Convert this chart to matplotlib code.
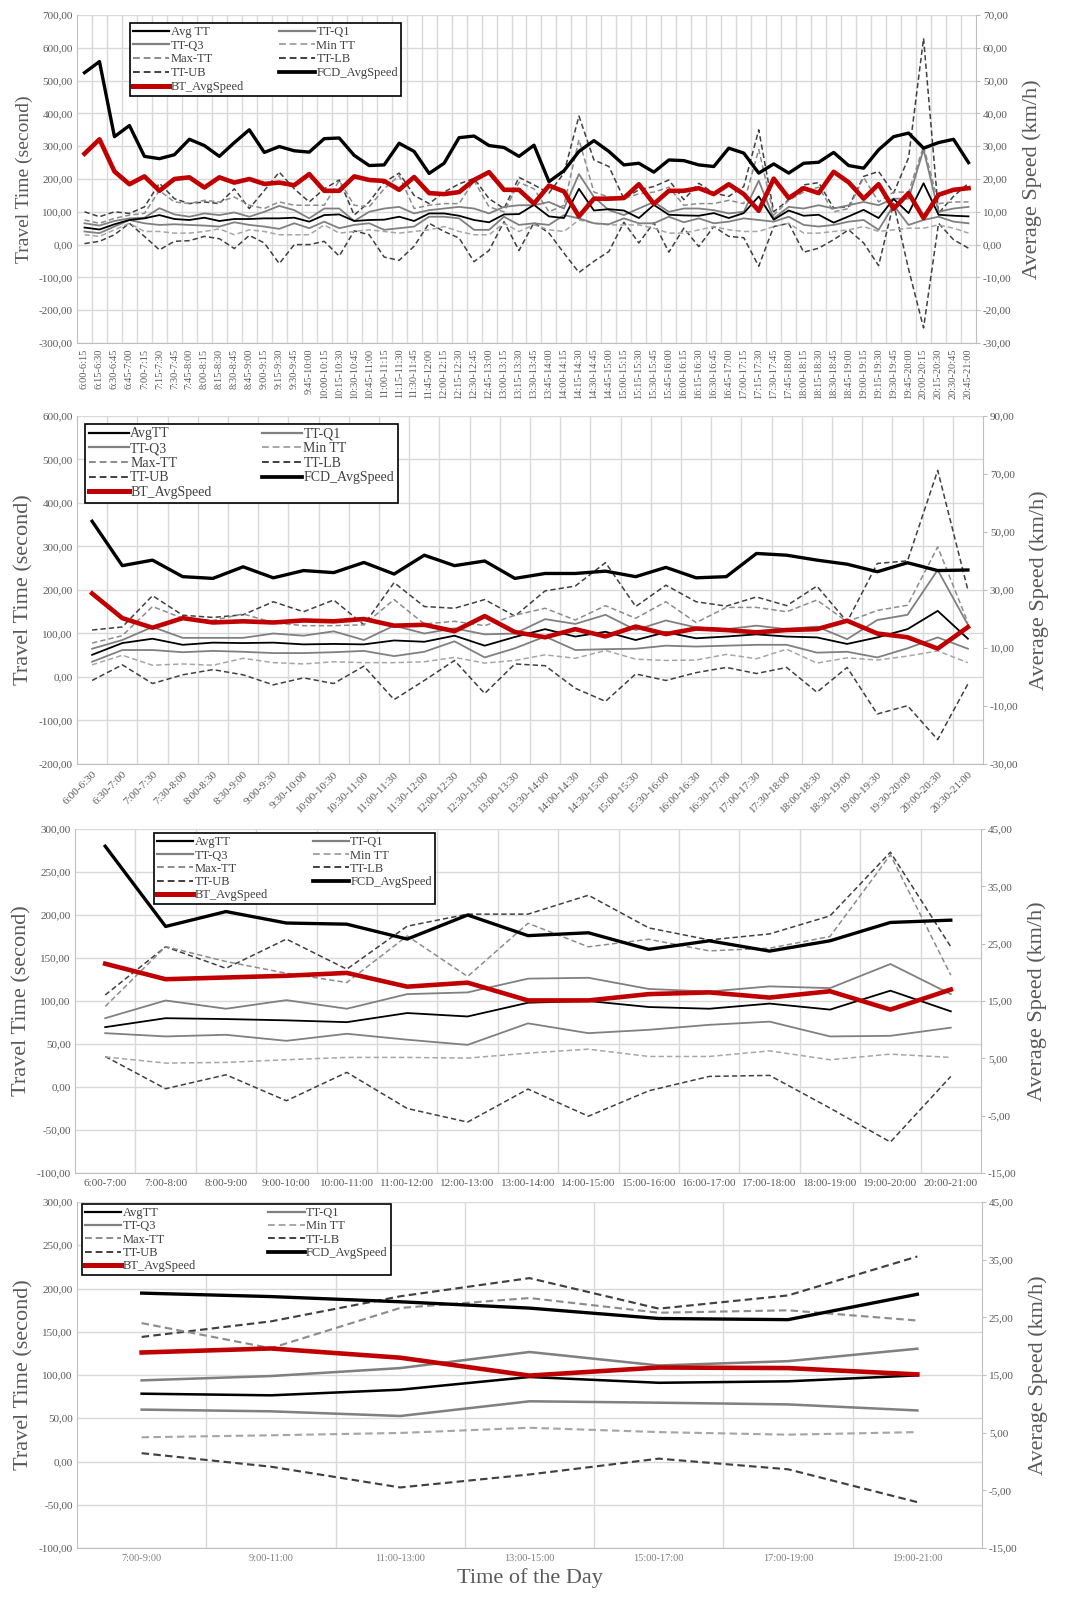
import matplotlib
matplotlib.use('Agg')
import matplotlib.pyplot as plt
import numpy as np
from matplotlib.ticker import FuncFormatter, FixedLocator
from matplotlib.lines import Line2D

plt.rcParams['font.family'] = ['Liberation Serif', 'DejaVu Serif']

# ---------------- Panel 1 (15-minute intervals) ----------------
lab1 = ["6:00-6:15", "6:15-6:30", "6:30-6:45", "6:45-7:00", "7:00-7:15", "7:15-7:30", "7:30-7:45", "7:45-8:00",
        "8:00-8:15", "8:15-8:30", "8:30-8:45", "8:45-9:00", "9:00-9:15", "9:15-9:30", "9:30-9:45", "9:45-10:00",
        "10:00-10:15", "10:15-10:30", "10:30-10:45", "10:45-11:00", "11:00-11:15", "11:15-11:30", "11:30-11:45",
        "11:45-12:00", "12:00-12:15", "12:15-12:30", "12:30-12:45", "12:45-13:00", "13:00-13:15", "13:15-13:30",
        "13:30-13:45", "13:45-14:00", "14:00-14:15", "14:15-14:30", "14:30-14:45", "14:45-15:00", "15:00-15:15",
        "15:15-15:30", "15:30-15:45", "15:45-16:00", "16:00-16:15", "16:15-16:30", "16:30-16:45", "16:45-17:00",
        "17:00-17:15", "17:15-17:30", "17:30-17:45", "17:45-18:00", "18:00-18:15", "18:15-18:30", "18:30-18:45",
        "18:45-19:00", "19:00-19:15", "19:15-19:30", "19:30-19:45", "19:45-20:00", "20:00-20:15", "20:15-20:30",
        "20:30-20:45", "20:45-21:00"]
avg1 = [52, 46, 62, 75, 80, 90, 78, 75, 82, 72, 78, 78, 80, 80, 82, 70, 90, 92, 72, 75, 76, 85, 72, 95, 95, 88, 75, 68, 92, 93,
        121, 86, 81, 170, 104, 108, 104, 81, 121, 91, 89, 88, 96, 81, 96, 147, 76, 104, 88, 91, 67, 86, 106, 81, 139, 96, 187, 91, 88, 86]
q1_1 = [40, 35, 55, 75, 65, 60, 62, 60, 58, 55, 68, 60, 55, 48, 65, 50, 70, 50, 60, 65, 45, 50, 55, 85, 85, 80, 45, 45, 85, 60,
        65, 60, 90, 80, 65, 62, 80, 65, 65, 85, 68, 80, 65, 70, 80, 75, 70, 85, 60, 55, 60, 70, 75, 45, 120, 60, 75, 85, 70, 65]
q3_1 = [65, 58, 72, 80, 82, 111, 92, 85, 95, 90, 98, 85, 100, 118, 105, 80, 110, 110, 72, 100, 110, 115, 95, 105, 110, 115, 110, 95, 115, 120,
        120, 130, 110, 215, 145, 105, 90, 110, 130, 100, 110, 110, 105, 95, 100, 195, 80, 115, 110, 120, 110, 120, 130, 120, 140, 140, 290, 100, 110, 115]
min1 = [30, 25, 45, 65, 40, 40, 35, 35, 40, 48, 30, 45, 40, 30, 30, 30, 60, 35, 40, 45, 40, 35, 40, 45, 55, 40, 30, 30, 65, 40,
        60, 45, 40, 75, 65, 60, 60, 60, 50, 35, 35, 45, 55, 45, 40, 40, 55, 65, 35, 35, 40, 45, 55, 40, 45, 50, 50, 60, 50, 35]
max1 = [75, 65, 80, 90, 95, 165, 130, 125, 135, 130, 145, 120, 110, 130, 120, 120, 120, 195, 120, 115, 170, 210, 110, 120, 125, 125, 195, 115, 100, 190,
        170, 100, 120, 320, 160, 145, 140, 155, 160, 175, 120, 125, 125, 135, 125, 290, 90, 135, 160, 175, 100, 110, 205, 130, 160, 160, 300, 125, 130, 130]
lb1 = [3, 10, 30, 65, 25, -16, 10, 12, 25, 18, -12, 28, 5, -58, 0, 0, 10, -35, 42, 30, -38, -48, -5, 65, 40, 20, -52, -18, 70, -18,
       67, 35, -26, -85, -51, -21, 68, 5, 67, -23, 50, -6, 55, 25, 21, -66, 55, 65, -23, -11, 15, 45, 5, -64, 126, -75, -254, 65, 15, -11]
ub1 = [100, 85, 100, 95, 115, 187, 140, 125, 130, 125, 170, 110, 165, 221, 170, 130, 170, 197, 90, 130, 190, 218, 150, 125, 160, 185, 202, 140, 110, 205,
       182, 157, 218, 392, 258, 238, 140, 167, 177, 197, 137, 187, 157, 147, 177, 350, 100, 137, 182, 189, 111, 116, 208, 223, 157, 265, 629, 96, 147, 187]
fcd1 = [52.4, 55.8, 32.9, 36.3, 26.9, 26.2, 27.4, 32.1, 30.2, 26.9, 31.1, 35.0, 28.1, 29.9, 28.6, 28.2, 32.3, 32.5, 27.2, 24.1,
        24.3, 30.9, 28.4, 21.7, 24.8, 32.6, 33.1, 30.2, 29.6, 26.9,
        30.3, 19.2, 22.5, 28.4, 31.7, 28.4, 24.3, 24.8, 22.1, 25.8, 25.6, 24.3, 23.8, 29.4, 27.9, 21.8, 24.6, 21.8, 24.8, 25.1,
        28.1, 24.1, 23.3, 28.9, 32.9, 34.0, 29.4, 31.1, 32.1, 25.0]
bt1 = [27.7, 32.1, 22.3, 18.4, 20.8, 16.4, 20.0, 20.5, 17.4, 20.5, 18.9, 20.0, 18.5, 18.9, 18.1, 21.5, 16.4, 16.4, 20.8, 19.7,
       19.4, 16.7, 20.6, 15.7, 15.4, 16.0, 19.7, 22.1, 16.7, 16.7,
       12.5, 18.0, 16.2, 8.6, 14.0, 14.0, 14.2, 18.4, 12.4, 16.4, 16.4, 17.2, 15.4, 18.4, 15.4, 10.3, 20.1, 14.2, 17.2, 15.7,
       22.2, 19.0, 14.0, 18.4, 10.9, 15.7, 8.1, 15.2, 16.7, 17.2]

# ---------------- Panel 2 (30-minute intervals) ----------------
lab2 = ["6:00-6:30", "6:30-7:00", "7:00-7:30", "7:30-8:00", "8:00-8:30", "8:30-9:00", "9:00-9:30", "9:30-10:00",
        "10:00-10:30", "10:30-11:00", "11:00-11:30", "11:30-12:00", "12:00-12:30", "12:30-13:00", "13:00-13:30",
        "13:30-14:00", "14:00-14:30", "14:30-15:00", "15:00-15:30", "15:30-16:00", "16:00-16:30", "16:30-17:00",
        "17:00-17:30", "17:30-18:00", "18:00-18:30", "18:30-19:00", "19:00-19:30", "19:30-20:00", "20:00-20:30",
        "20:30-21:00"]
avg2 = [51, 78, 88, 74, 79, 78, 79, 75, 76, 75, 84, 81, 95, 72, 92, 110, 93, 104, 85, 103, 89, 93, 98, 93, 91, 76, 91, 110, 152, 88]
q1_2 = [35, 62, 62, 57, 60, 58, 55, 55, 57, 60, 48, 58, 82, 45, 66, 93, 62, 64, 65, 72, 70, 72, 74, 74, 56, 58, 45, 66, 91, 65]
q3_2 = [65, 85, 115, 90, 90, 90, 100, 95, 105, 85, 118, 100, 112, 98, 100, 133, 122, 143, 108, 130, 114, 110, 118, 110, 116, 87, 131, 143, 246, 120]
min2 = [28, 50, 27, 30, 27, 43, 33, 30, 35, 33, 33, 35, 45, 32, 38, 51, 43, 61, 41, 38, 39, 52, 42, 64, 32, 44, 39, 48, 60, 33]
max2 = [78, 95, 162, 135, 130, 145, 125, 118, 118, 120, 178, 122, 128, 118, 142, 158, 131, 164, 135, 173, 125, 160, 160, 150, 177, 127, 153, 165, 299, 125]
lb2 = [-8, 28, -15, 5, 17, 5, -18, -2, -15, 25, -52, -8, 38, -38, 30, 26, -26, -56, 7, -8, 10, 22, 8, 22, -35, 22, -85, -66, -144, -16]
ub2 = [108, 115, 187, 142, 137, 143, 173, 150, 177, 120, 217, 162, 158, 178, 140, 198, 209, 263, 162, 211, 173, 163, 184, 164, 209, 127, 261, 267, 475, 200]
fcd2 = [53.7, 38.4, 40.3, 34.6, 34.0, 38.0, 34.2, 36.7, 36.0, 39.5, 35.5, 42.0, 38.4, 40.0, 34.0, 35.7, 35.7, 36.5, 34.6, 37.8,
        34.2, 34.6, 42.6, 42.0, 40.3, 38.9, 36.3, 39.4, 36.7, 36.9]
bt2 = [28.8, 20.3, 17.0, 20.3, 18.8, 19.2, 18.8, 19.5, 19.2, 20.0, 17.7, 18.0, 15.8, 21.0, 15.5, 13.7, 16.5, 14.0, 17.4, 14.8,
       16.7, 16.2, 15.4, 16.2, 16.5, 19.4, 15.0, 13.7, 9.8, 17.2]

# ---------------- Panel 3 (1-hour intervals) ----------------
lab3 = ["6:00-7:00", "7:00-8:00", "8:00-9:00", "9:00-10:00", "10:00-11:00", "11:00-12:00", "12:00-13:00", "13:00-14:00",
        "14:00-15:00", "15:00-16:00", "16:00-17:00", "17:00-18:00", "18:00-19:00", "19:00-20:00", "20:00-21:00"]
avg3 = [69.6, 80, 79, 77.5, 75.4, 86, 82, 98, 100, 93, 91, 97, 90, 112, 88]
q1_3 = [62.6, 58.8, 60.7, 53.7, 61.9, 55, 49, 74, 62.6, 66.5, 72.3, 76, 58.8, 59.5, 69]
q3_3 = [80, 100.6, 91, 101, 91, 108, 110, 126, 127, 114, 111, 117, 115, 143, 108]
min3 = [35, 27.8, 28.6, 31.7, 34.4, 34.4, 33.6, 39.4, 44, 35.5, 35.5, 42, 31.7, 38.2, 34.4]
max3 = [93.6, 163.3, 145.9, 132.3, 121.5, 175.7, 128.5, 190.4, 163, 171.8, 158.3, 161.4, 175, 270, 130]
lb3 = [35.5, -2, 14.2, -16, 17, -25, -40.8, -2.4, -34, -4.4, 12.3, 13.5, -24.5, -64, 12.3]
ub3 = [107, 163, 138, 172, 137, 187, 201, 201, 223, 185, 171, 178, 199, 273, 163]
fcd3 = [42.0, 28.0, 30.6, 28.6, 28.4, 25.8, 30.0, 26.4, 26.9, 24.0, 25.5, 23.7, 25.5, 28.7, 29.1]
bt3 = [21.5, 18.8, 19.1, 19.4, 19.9, 17.5, 18.2, 15.1, 15.1, 16.2, 16.5, 15.6, 16.7, 13.5, 17.0]

# ---------------- Panel 4 (2-hour intervals) ----------------
lab4 = ["7:00-9:00", "9:00-11:00", "11:00-13:00", "13:00-15:00", "15:00-17:00", "17:00-19:00", "19:00-21:00"]
avg4 = [78.4, 76.5, 83, 97.7, 91, 92.7, 99.6]
q1_4 = [60, 58, 52.6, 69.6, 68, 66, 59]
q3_4 = [93.8, 98.8, 108, 126.6, 111, 116, 130.4]
min4 = [28, 30.3, 33, 39, 34, 31, 34]
max4 = [160, 131, 177.5, 189, 172, 174.8, 163]
lb4 = [9.6, -6, -30, -15, 3.3, -9, -47]
ub4 = [144, 162, 191, 212, 176.7, 192, 237]
fcd4 = [29.2, 28.6, 27.7, 26.6, 24.8, 24.6, 29.0]
bt4 = [18.9, 19.6, 18.0, 14.9, 16.3, 16.2, 15.1]

# ---------------- styling ----------------
GRID = '#d9d9d9'
TXT = '#595959'
STY = {
    'ub':  dict(color='#404040', lw=1.1, ls=(0, (3.5, 2))),
    'lb':  dict(color='#404040', lw=1.1, ls=(0, (3.5, 2))),
    'max': dict(color='#8c8c8c', lw=1.1, ls=(0, (3.5, 2))),
    'min': dict(color='#a6a6a6', lw=1.1, ls=(0, (3.5, 2))),
    'q1':  dict(color='#808080', lw=1.3, ls='-'),
    'q3':  dict(color='#808080', lw=1.3, ls='-'),
    'avg': dict(color='#000000', lw=1.3, ls='-'),
    'fcd': dict(color='#000000', lw=2.4, ls='-'),
    'bt':  dict(color='#c00000', lw=3.3, ls='-'),
}


def fmt(v, pos):
    return f"{v:.2f}".replace('.', ',')


fig = plt.figure(figsize=(10.65, 15.98), dpi=100)
W, H = 1065.0, 1598.0


def rect(l, r, t, b):
    return [l / W, 1 - b / H, (r - l) / W, (b - t) / H]


def panel(box, labels, tt, fcd, bt, ylim, ystep, y2lim, y2step, avg_label,
          leg_anchor, leg_fs, leg_ls, leg_cs, xrot, xfs, xcolor, ylfs, y2lfs, lwscale=1.0):
    ax = fig.add_axes(box)
    n = len(labels)
    x = np.arange(n)
    for key in ['ub', 'lb', 'max', 'min', 'q1', 'q3', 'avg']:
        s = STY[key]
        ax.plot(x, tt[key], color=s['color'], lw=s['lw'] * lwscale, linestyle=s['ls'], zorder=3)
    ax.set_xlim(-0.5, n - 0.5)
    ax.set_ylim(*ylim)
    ax.set_yticks(np.arange(ylim[0], ylim[1] + 0.001, ystep))
    ax.yaxis.set_major_formatter(FuncFormatter(fmt))
    ax.set_xticks(x)
    if xrot == 90:
        ax.set_xticklabels(labels, rotation=90, fontsize=xfs, color=xcolor, ha='center', va='top')
    elif xrot:
        ax.set_xticklabels(labels, rotation=xrot, fontsize=xfs, color=xcolor, ha='right', va='top',
                           rotation_mode='anchor')
    else:
        ax.set_xticklabels(labels, fontsize=xfs, color=xcolor)
    ax.xaxis.set_minor_locator(FixedLocator(np.arange(0.5, n - 0.5, 1.0)))
    ax.grid(which='minor', axis='x', color=GRID, lw=1.0, zorder=0)
    ax.grid(which='major', axis='y', color=GRID, lw=1.0, zorder=0)
    ax.set_axisbelow(True)
    ax.tick_params(axis='both', which='both', length=0, pad=4)
    ax.tick_params(axis='y', labelsize=8, labelcolor=TXT, pad=3)
    for sp in ['top', 'right']:
        ax.spines[sp].set_visible(False)
    ax.spines['left'].set_color('#bfbfbf')
    ax.spines['bottom'].set_color('#bfbfbf')
    ax.set_ylabel('Travel Time (second)', fontsize=ylfs, color=TXT)

    ax2 = ax.twinx()
    ax2.plot(x, fcd, color=STY['fcd']['color'], lw=STY['fcd']['lw'], zorder=4)
    ax2.plot(x, bt, color=STY['bt']['color'], lw=STY['bt']['lw'], zorder=5)
    ax2.set_ylim(*y2lim)
    ax2.set_yticks(np.arange(y2lim[0], y2lim[1] + 0.001, y2step))
    ax2.yaxis.set_major_formatter(FuncFormatter(fmt))
    ax2.tick_params(axis='y', length=3, color='#bfbfbf', labelsize=8, labelcolor=TXT, pad=2)
    for sp in ['top', 'left', 'bottom']:
        ax2.spines[sp].set_visible(False)
    ax2.spines['right'].set_color('#bfbfbf')
    ax2.set_ylabel('Average Speed (km/h)', fontsize=y2lfs, color=TXT, labelpad=8)

    h = {}
    for key in STY:
        s = STY[key]
        h[key] = Line2D([], [], color=s['color'], lw=s['lw'] + 0.3, linestyle=s['ls'])
    order = ['avg', 'q3', 'max', 'ub', 'bt', 'q1', 'min', 'lb', 'fcd']
    names = {'avg': avg_label, 'q1': 'TT-Q1', 'q3': 'TT-Q3', 'min': 'Min TT', 'max': 'Max-TT',
             'lb': 'TT-LB', 'ub': 'TT-UB', 'fcd': 'FCD_AvgSpeed', 'bt': 'BT_AvgSpeed'}
    leg = ax2.legend([h[k] for k in order], [names[k] for k in order], ncol=2, loc='upper left',
                     bbox_to_anchor=leg_anchor, fontsize=leg_fs, labelspacing=leg_ls,
                     columnspacing=leg_cs, handlelength=2.9, handletextpad=0.1, borderpad=0.25,
                     fancybox=False, framealpha=1, edgecolor='black', borderaxespad=0)
    leg.get_frame().set_linewidth(1.2)
    for t in leg.get_texts():
        t.set_color('#404040')
    leg.set_zorder(10)
    return ax, ax2


tt1 = dict(avg=avg1, q1=q1_1, q3=q3_1, min=min1, max=max1, lb=lb1, ub=ub1)
tt2 = dict(avg=avg2, q1=q1_2, q3=q3_2, min=min2, max=max2, lb=lb2, ub=ub2)
tt3 = dict(avg=avg3, q1=q1_3, q3=q3_3, min=min3, max=max3, lb=lb3, ub=ub3)
tt4 = dict(avg=avg4, q1=q1_4, q3=q3_4, min=min4, max=max4, lb=lb4, ub=ub4)

a1, b1 = panel(rect(77, 976, 15, 343), lab1, tt1, fcd1, bt1, (-300, 700), 100, (-30, 70), 10, 'Avg TT',
               (0.059, 0.976), 9, 0.14, 2.8, 90, 7.5, TXT, 14, 16)
a2, b2 = panel(rect(77, 983, 416, 764), lab2, tt2, fcd2, bt2, (-200, 600), 100, (-30, 90), 20, 'AvgTT',
               (0.009, 0.977), 10, 0.12, 3.6, 45, 8, TXT, 16, 16)
a3, b3 = panel(rect(75, 981, 829, 1173), lab3, tt3, fcd3, bt3, (-100, 300), 50, (-15, 45), 10, 'AvgTT',
               (0.087, 0.988), 9, 0.1, 3.6, 0, 8, TXT, 16, 16)
a4, b4 = panel(rect(77, 982, 1202, 1548), lab4, tt4, fcd4, bt4, (-100, 300), 50, (-15, 45), 10, 'AvgTT',
               (0.0055, 0.994), 9, 0.1, 5.8, 0, 7.5, '#7f7f7f', 16, 16, lwscale=1.4)

fig.text(530 / W, 1 - 1578 / H, 'Time of the Day', ha='center', va='center', fontsize=16, color=TXT)

fig.savefig('out.png', dpi=100)
